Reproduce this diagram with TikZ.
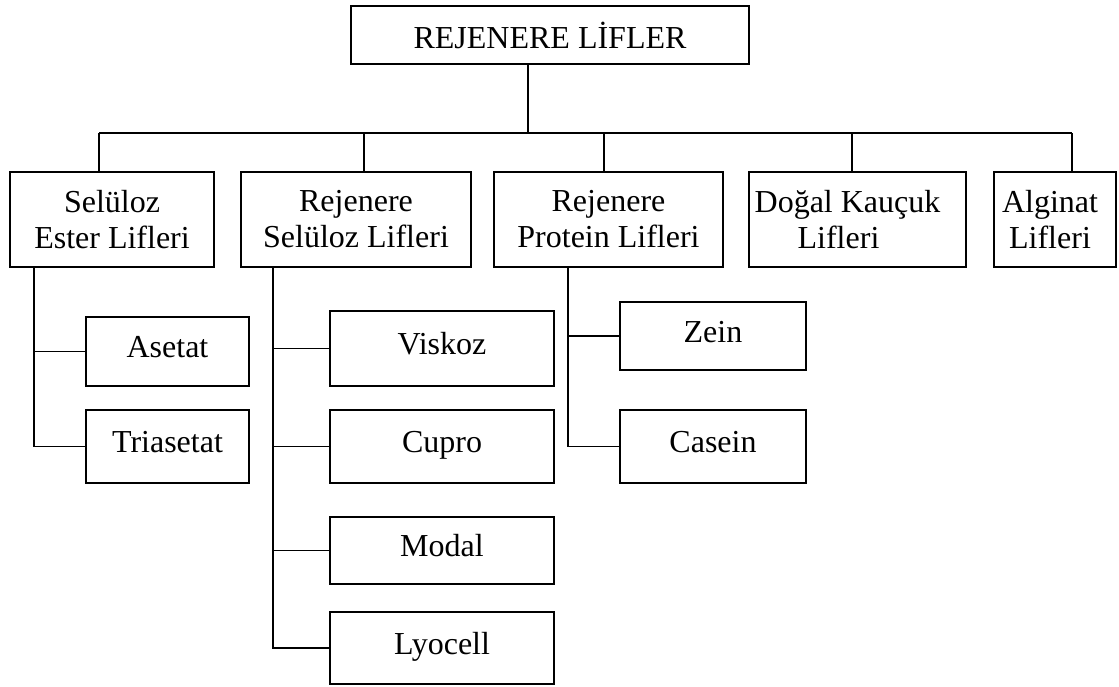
\documentclass[tikz,border=0pt]{standalone}
\usepackage{fontspec}
\setmainfont{Liberation Serif}

\begin{document}
\begin{tikzpicture}[x=1pt,y=-1pt,line width=1.8pt,
  box/.style={draw,rectangle,inner sep=0pt,align=center,font=\fontsize{32}{36}\selectfont},
  leaf/.style={box,text height=22pt,text depth=10pt}]
\useasboundingbox (0,0) rectangle (1119,686);
        % ana kutu ve lif gruplari
        \node[box,minimum width=398pt,minimum height=58pt] (root) at (550,35) {REJENERE LİFLER};
        \node[box,minimum width=204pt,minimum height=95pt] (selester) at (112,219.5) {Selüloz\\Ester Lifleri};
        \node[box,minimum width=230pt,minimum height=95pt] (rejsel) at (356,219.5) {Rejenere\\Selüloz Lifleri};
        \node[box,minimum width=229pt,minimum height=95pt] (rejprot) at (608.5,219.5) {Rejenere\\Protein Lifleri};
        \node[box,minimum width=217pt,minimum height=95pt] (kaucuk) at (857.5,219.5) {Doğal Kauçuk\hspace*{20pt}\\Lifleri\hspace*{38pt}};
        \node[box,minimum width=122pt,minimum height=95pt] (alginat) at (1055,219.5) {Alginat\hspace*{10pt}\\Lifleri\hspace*{10pt}};

        % alt lifler
        \node[leaf,minimum width=163pt,minimum height=69pt] (asetat) at (167.5,351.5) {Asetat};
        \node[leaf,minimum width=163pt,minimum height=73pt] (triasetat) at (167.5,446.5) {Triasetat};
        \node[leaf,minimum width=224pt,minimum height=75pt] (viskoz) at (442,348.5) {Viskoz};
        \node[leaf,minimum width=224pt,minimum height=73pt] (cupro) at (442,446.5) {Cupro};
        \node[leaf,minimum width=224pt,minimum height=67pt] (modal) at (442,550.5) {Modal};
        \node[leaf,minimum width=224pt,minimum height=72pt] (lyocell) at (442,648) {Lyocell};
        \node[leaf,minimum width=186pt,minimum height=68pt] (zein) at (713,336) {Zein};
        \node[leaf,minimum width=186pt,minimum height=73pt] (casein) at (713,446.5) {Casein};

        % bus
        \coordinate (hub) at (528,133);
        \coordinate (d1) at (99,133);
        \coordinate (d2) at (364,133);
        \coordinate (d3) at (604,133);
        \coordinate (d4) at (852,133);
        \coordinate (d5) at (1072,133);
        \draw (root.south -| hub) -- (hub);
        \draw (d1) -- (d5);
        \draw (d1) -- (d1 |- selester.north);
        \draw (d2) -- (d2 |- rejsel.north);
        \draw (d3) -- (d3 |- rejprot.north);
        \draw (d4) -- (d4 |- kaucuk.north);
        \draw (d5) -- (d5 |- alginat.north);

        \coordinate (t1) at ([xshift=25pt]selester.south west);
        \draw (t1) |- (triasetat.west);
        \draw (t1 |- asetat.west) -- (asetat.west);

        \coordinate (t2) at ([xshift=33pt]rejsel.south west);
        \draw (t2) |- (lyocell.west);
        \draw (t2 |- viskoz.west) -- (viskoz.west);
        \draw (t2 |- cupro.west) -- (cupro.west);
        \draw (t2 |- modal.west) -- (modal.west);

        \coordinate (t3) at ([xshift=75pt]rejprot.south west);
        \draw (t3) |- (casein.west);
        \draw (t3 |- zein.west) -- (zein.west);
\end{tikzpicture}
\end{document}
